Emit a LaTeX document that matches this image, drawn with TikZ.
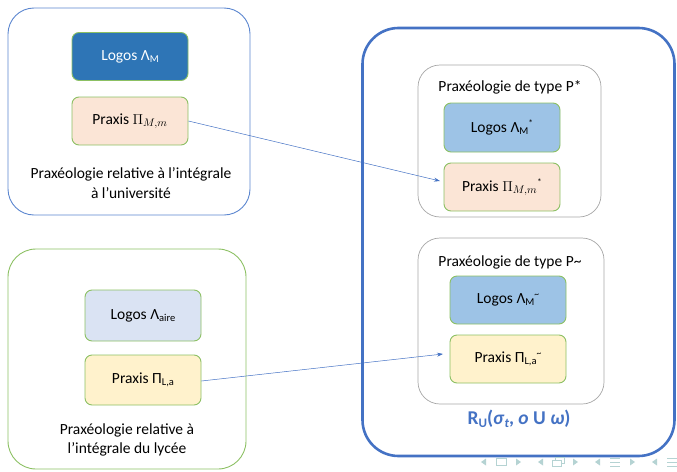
\documentclass[tikz,border=0pt]{standalone}
\usepackage{fontspec}
\setmainfont{Carlito}
\usetikzlibrary{arrows.meta}
\definecolor{frameblue}{HTML}{4472C4}
\definecolor{lightframe}{HTML}{5B86CF}
\definecolor{framegreen}{HTML}{8CC063}
\definecolor{boxgreen}{HTML}{8CC063}
\definecolor{darkblue}{HTML}{2E75B6}
\definecolor{midblue}{HTML}{9DC3E6}
\definecolor{paleblue}{HTML}{DAE3F3}
\definecolor{peach}{HTML}{FBE5D6}
\definecolor{cream}{HTML}{FFF2CC}
\definecolor{greyframe}{HTML}{A6A6A6}
\definecolor{navcol}{HTML}{B5D3D3}
% lowered index and raised mark in text
\newcommand{\lsub}[1]{\raisebox{-0.3ex}{\fontsize{10.5}{10.5}\selectfont #1}}
\newcommand{\lsup}[1]{\raisebox{0.8ex}{\fontsize{9.5}{9.5}\selectfont #1}}
\begin{document}
\begin{tikzpicture}[x=1pt,y=-1pt,
  every node/.style={font=\fontsize{15.5}{19.5}\selectfont, inner sep=0pt},
  card/.style={draw=boxgreen, line width=0.9pt, rounded corners=7pt, minimum width=116pt, minimum height=48pt},
  greybox/.style={draw=greyframe, line width=0.7pt, rounded corners=22pt},
  link/.style={draw=frameblue, line width=0.5pt, -{Stealth[length=6pt,width=4pt]}},
  nav/.style={fill=navcol, draw=none}
]
\useasboundingbox (0,0) rectangle (677,471);

% university praxeology
\node[draw=lightframe, line width=0.9pt, rounded corners=26pt, minimum width=242pt, minimum height=207pt] (univ) at (129,111.5) {};
\node[card, fill=darkblue, text=white] (logosM) at (130,56.5) {Logos Λ\lsub{M}};
\node[card, fill=peach] (praxisM) at (130,121) {Praxis $\Pi_{M,m}$};
\node[align=center] (univlabel) at (131,183) {Praxéologie relative à l’intégrale\\à l’université};

% high-school praxeology
\node[draw=framegreen, line width=0.9pt, rounded corners=28pt, minimum width=238pt, minimum height=220pt] (lycee) at (127,359) {};
\node[card, fill=paleblue, minimum height=51pt] (logosA) at (143,315.5) {Logos Λ\lsub{aire}};
\node[card, fill=cream, minimum height=50pt] (praxisL) at (143,380) {Praxis Π\lsub{L,a}};
\node[align=center] (lyceelabel) at (127,440) {Praxéologie relative à\\l’intégrale du lycée};

% reconstructed praxeology
\node[draw=frameblue, line width=2.6pt, rounded corners=36pt, minimum width=312pt, minimum height=428pt] (recon) at (518.5,242) {};
\node[greybox, minimum width=183pt, minimum height=152pt] (pstar) at (509.5,141) {};
\node (pstarlabel) at (510,87) {Praxéologie de type P*};
\node[card, fill=midblue, minimum height=49pt] (logosMs) at (502,127.5) {Logos Λ\lsub{M}\lsup{*}};
\node[card, fill=peach, minimum height=48pt] (praxisMs) at (502,187) {Praxis $\Pi_{M,m}$\lsup{*}};

\node[greybox, minimum width=186pt, minimum height=166pt] (ptilde) at (511,321) {};
\node (ptildelabel) at (510,262) {Praxéologie de type P\textasciitilde};
\node[card, fill=midblue, minimum height=48pt] (logosMt) at (508,300) {Logos Λ\lsub{M}\lsup{\textasciitilde}};
\node[card, fill=cream, minimum height=48pt] (praxisLt) at (508,359) {Praxis Π\lsub{L,a}\lsup{\textasciitilde}};

\node[text=frameblue, font=\fontsize{19.5}{21}\selectfont\bfseries] (rlabel) at (519,419)
  {R\raisebox{-0.3ex}{\fontsize{13}{13}\selectfont U}(\textit{σ}\raisebox{-0.3ex}{\fontsize{13}{13}\selectfont\itshape t}, \textit{o} U \textit{ω})};

% transfers between praxes
\coordinate (endA) at (440,181);
\coordinate (endB) at (443,354);
\draw[link] (praxisM.east) -- (endA);
\draw[link] (praxisL.east) ++(0,1) -- (endB);

% navigation symbols
\begin{scope}[yshift=-462pt]
\fill[nav] (481,0) -- (486,-3.5) -- (486,3.5) -- cycle;
\node[draw=navcol, line width=0.8pt, minimum width=10pt, minimum height=7pt] (navframe) at (501,0) {};
\fill[nav] (521,0) -- (516,-3.5) -- (516,3.5) -- cycle;
\fill[nav] (538,0) -- (543,-3.5) -- (543,3.5) -- cycle;
\node[draw=navcol, line width=0.8pt, minimum width=9pt, minimum height=6pt] (navsub1) at (560,-2) {};
\node[draw=navcol, line width=0.8pt, fill=white, minimum width=9pt, minimum height=6pt] (navsub2) at (557,1) {};
\fill[nav] (578,0) -- (573,-3.5) -- (573,3.5) -- cycle;
\fill[nav] (595,0) -- (600,-3.5) -- (600,3.5) -- cycle;
\draw[navcol, line width=0.9pt] (610,-4) -- (620,-4) (610,0) -- (620,0) (610,4) -- (620,4);
\fill[nav] (635,0) -- (630,-3.5) -- (630,3.5) -- cycle;
\fill[nav] (652,0) -- (657,-3.5) -- (657,3.5) -- cycle;
\draw[navcol, line width=0.9pt] (667,-4) -- (677,-4) (667,0) -- (677,0) (667,4) -- (677,4);
\end{scope}
\end{tikzpicture}
\end{document}
